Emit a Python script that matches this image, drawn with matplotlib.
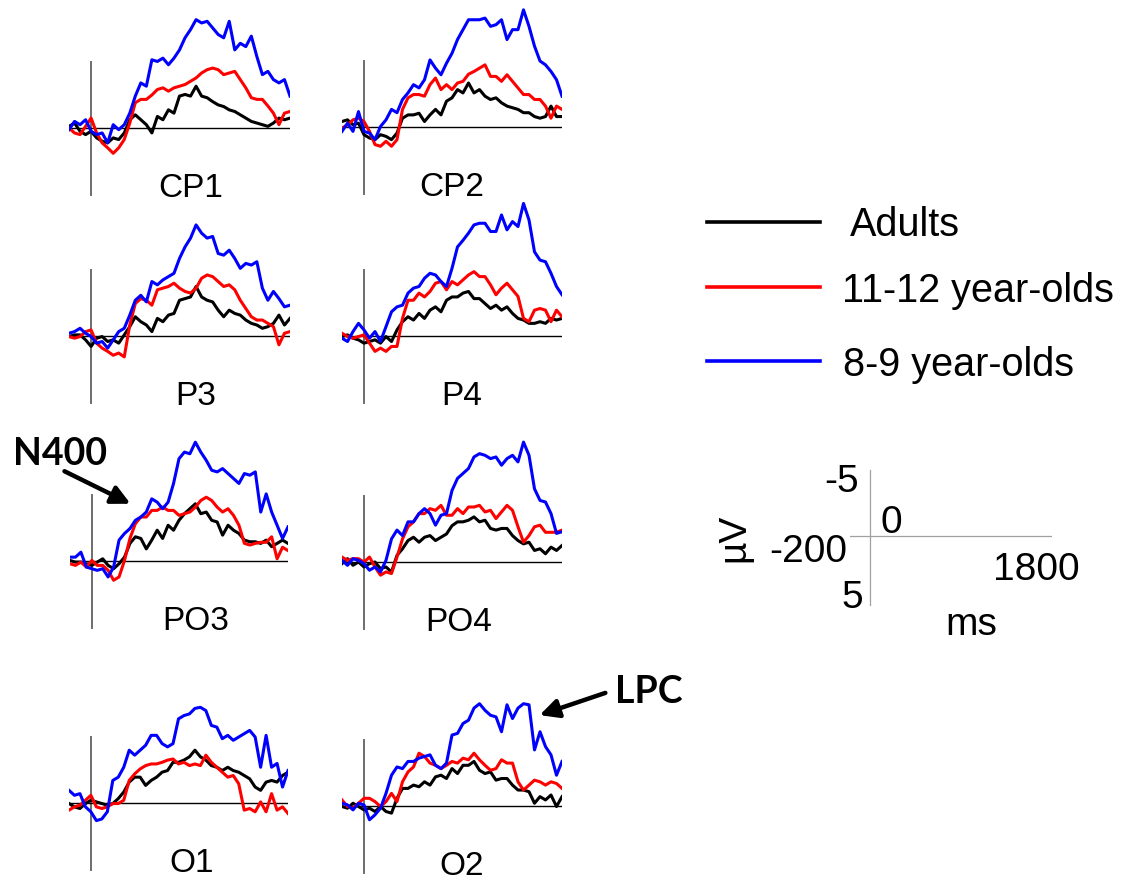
import matplotlib
matplotlib.use("Agg")
import matplotlib.pyplot as plt
import numpy as np

plt.rcParams['font.family'] = ['Liberation Sans', 'DejaVu Sans']

# time axis (ms), sampled every 50 ms
times = np.arange(-200, 1801, 50)

groups = ['Adults', '11-12 year-olds', '8-9 year-olds']
colors = ['#000000', '#ff0000', '#0000ff']

# amplitudes in microvolts (negative up)
cp1_adults = [-0.15, -0.45, 0.3, 0.6, 0.3, 0.9, 1.2, 1.35, 0.9, 1.05, 0.45, -0.75, -1.2, -0.75, -0.3, 0.45, -1.05, -0.75, -1.65, -1.35, -2.9,
              -3.05, -2.9, -3.8, -2.9, -2.75, -2.4, -2.1, -1.95, -1.65, -1.5, -1.2, -0.9, -0.6, -0.45, -0.3, -0.15, -0.45, -0.9, -0.75, -0.9]
cp1_older = [0, 0.45, 0.6, -0.15, -0.9, 0.45, 1.35, 1.8, 2.3, 1.8, 1.05, -0.45, -2.3, -2.6, -2.6, -3.0, -3.5, -3.65, -3.35, -3.65, -3.8,
             -3.95, -4.25, -4.55, -5.0, -5.3, -5.45, -5.3, -4.85, -5.0, -5.15, -4.4, -3.65, -2.75, -2.6, -2.6, -2.0, -1.35, -0.3, -1.35, -1.5]
cp1_younger = [0.15, -0.6, -0.3, -0.75, 0.3, 0.6, 0.45, 1.35, -0.3, 0.15, -0.3, -1.35, -2.9, -4.1, -3.8, -6.2, -6.05, -6.35, -5.75, -6.35, -7.1,
               -8.2, -8.95, -9.85, -9.55, -9.7, -9.1, -8.5, -8.2, -9.7, -7.1, -7.7, -7.4, -8.35, -6.5, -4.85, -5.15, -4.4, -4.1, -4.4, -2.9]

cp2_adults = [-0.5, -0.65, -0.2, -0.35, 0.7, 1.0, 1.15, 0.7, 0.85, 1.15, 0.55, -0.8, -1.1, -1.1, -1.25, -0.5, -1.1, -1.6, -1.1, -2.35, -2.65,
              -3.4, -3.1, -4.0, -3.1, -3.4, -2.8, -2.5, -2.65, -2.2, -1.9, -1.75, -1.6, -1.3, -1.3, -0.95, -0.8, -0.95, -1.9, -0.95, -0.95]
cp2_older = [0.1, -0.2, -0.65, -0.8, -0.5, 0.4, 1.6, 1.75, 1.3, 1.75, 1.15, -1.6, -2.65, -2.95, -2.95, -2.8, -3.85, -4.45, -3.4, -3.85, -3.4,
             -4.0, -4.15, -4.8, -5.05, -5.35, -5.65, -4.6, -4.6, -4.15, -4.75, -4.15, -3.55, -2.95, -2.95, -2.5, -2.5, -1.9, -0.8, -1.9, -1.6]
cp2_younger = [0.4, -0.35, 0.4, -1.4, 0.4, 0.55, 1.15, -0.05, -0.65, -1.6, -1.3, -2.5, -3.1, -3.85, -3.55, -4.3, -6.1, -5.35, -4.75, -5.8, -6.7,
               -7.95, -8.85, -9.75, -9.75, -9.75, -9.9, -9.15, -9.3, -9.75, -7.95, -8.85, -8.85, -10.65, -9.15, -7.35, -6.0, -5.65, -5.05, -4.3, -2.8]

p3_adults = [0.05, -0.1, -0.1, 0.35, 0.95, 0.2, 0.05, 0.5, 0.35, 0.65, -0.1, -0.85, -1.75, -1.3, -1.0, -0.4, -1.6, -1.3, -1.9, -2.05, -3.25,
             -3.4, -3.55, -4.5, -3.55, -3.25, -3.1, -2.35, -1.75, -2.35, -2.05, -1.9, -1.45, -1.15, -1.0, -0.7, -0.85, -1.15, -1.9, -1.0, -1.6]
p3_older = [0.05, 0.2, 0.05, -0.4, -0.55, 0.65, 1.1, 1.4, 1.75, 1.55, 1.9, -1.0, -2.95, -3.4, -3.25, -2.8, -4.2, -4.35, -4.5, -4.8, -4.35,
            -4.05, -3.9, -4.35, -5.25, -5.55, -5.4, -4.95, -4.5, -4.65, -4.2, -3.25, -2.5, -1.75, -1.45, -1.45, -1.15, -0.85, 0.8, -0.25, -0.4]
p3_younger = [-0.25, -0.4, -0.7, -0.25, 0.05, 0.65, 0.5, 1.1, 0.35, -0.4, -0.7, -1.9, -3.25, -3.7, -3.1, -4.95, -4.65, -5.1, -5.4, -5.7, -7.05,
              -8.1, -8.9, -10.1, -9.35, -8.9, -9.05, -7.5, -7.35, -7.8, -7.05, -6.15, -6.6, -6.45, -6.75, -4.35, -3.25, -4.05, -3.4, -2.65, -2.8]

p4_adults = [0.05, -0.1, 0.2, 0.35, 0.65, 0.5, 0.35, 0.65, 0.05, 0.5, -0.55, -1.3, -1.75, -1.45, -2.05, -1.6, -2.35, -2.65, -2.2, -3.25, -3.55,
             -3.55, -3.9, -4.05, -3.4, -3.4, -2.95, -2.5, -2.8, -2.35, -2.65, -2.05, -1.6, -1.45, -1.15, -1.15, -1.3, -1.15, -1.6, -1.45, -1.6]
p4_older = [-0.25, 0.05, 0.2, 0.05, -0.1, 0.65, 1.4, 1.1, 1.4, 0.95, 0.95, -1.6, -3.25, -3.25, -3.9, -3.55, -4.05, -4.8, -4.95, -4.2, -4.95,
            -4.65, -5.1, -5.55, -5.85, -5.4, -5.4, -4.65, -3.75, -4.35, -4.8, -4.2, -3.6, -1.6, -1.3, -2.35, -2.5, -2.35, -1.3, -2.35, -1.75]
p4_younger = [0.2, 0.5, -0.4, -1.15, -0.55, 0.2, -0.4, 0.5, -0.85, -2.2, -2.65, -2.8, -3.9, -4.35, -4.5, -5.25, -5.7, -5.55, -4.95, -4.5, -6.15,
              -8.1, -8.7, -9.35, -10.1, -10.25, -10.25, -9.5, -9.5, -11.0, -9.65, -10.4, -9.95, -12.05, -10.55, -7.65, -6.9, -6.75, -5.7, -4.5, -3.75]

po3_adults = [-0.05, 0.1, 0.1, 0.25, 0.4, 0.1, -0.2, 0.4, 0.7, 0.25, -0.35, -1.6, -2.2, -2.05, -1.1, -1.9, -2.8, -2.05, -3.25, -2.8, -3.7,
              -4.3, -4.75, -5.2, -4.3, -4.45, -3.7, -3.55, -2.35, -3.25, -2.8, -2.5, -1.9, -1.75, -1.75, -1.6, -1.9, -1.3, -1.6, -1.9, -1.6]
po3_older = [0.25, 0.4, 0.1, 0.55, -0.05, 0.4, 0.4, 0.85, 1.75, 1.45, -0.05, -2.05, -3.4, -4.0, -4.0, -4.6, -4.6, -4.9, -4.6, -4.6, -4.15,
             -4.3, -4.45, -4.9, -5.5, -5.8, -5.5, -4.9, -4.45, -4.75, -4.15, -3.25, -1.6, -1.45, -1.6, -1.7, -1.7, -2.2, -0.2, -1.25, -0.95]
po3_younger = [-0.35, -0.35, -0.8, 0.55, 0.7, 0.85, 0.7, 1.45, 0.55, -1.9, -2.5, -2.95, -3.7, -4.0, -4.45, -5.65, -5.35, -4.75, -5.35, -7.05, -9.3,
               -9.9, -9.75, -10.8, -9.9, -9.15, -8.25, -8.1, -8.4, -7.95, -7.5, -7.05, -7.95, -7.8, -8.1, -4.45, -6.1, -4.45, -3.25, -2.05, -3.1]

po4_adults = [0.15, -0.3, 0.3, 0, 0.45, 0.15, 0, 0.6, 0.45, 0.9, -0.6, -1.2, -1.95, -2.25, -1.8, -2.25, -2.4, -1.95, -2.25, -2.55, -3.3,
              -3.65, -3.65, -3.8, -4.1, -3.65, -3.8, -3.05, -2.9, -3.05, -3.05, -2.4, -1.95, -1.65, -1.8, -1.05, -1.2, -0.75, -1.35, -1.05, -1.5]
po4_older = [-0.45, -0.15, -0.3, -0.3, 0, -0.45, 0.45, 1.2, 0.9, 1.05, -0.45, -2.1, -3.2, -3.65, -4.4, -4.4, -4.85, -4.7, -5.15, -4.25, -4.25,
             -4.85, -4.4, -5.0, -5.0, -5.15, -4.55, -4.7, -3.95, -4.55, -5.15, -4.7, -3.2, -1.8, -2.4, -3.2, -3.35, -2.7, -2.7, -2.7, -2.9]
po4_younger = [-0.15, 0.3, -0.3, -0.15, 0.15, 0.75, 0.45, 0.9, -0.15, -2.1, -2.9, -2.4, -3.65, -3.65, -4.4, -4.85, -4.4, -3.35, -4.25, -4.4, -6.5,
               -7.6, -8.05, -8.5, -9.55, -9.85, -9.7, -9.4, -9.55, -8.8, -9.4, -9.7, -9.1, -10.9, -9.7, -6.65, -5.6, -5.45, -4.4, -2.6, -2.75]

o1_adults = [0.05, 0.35, 0.5, 0.05, -0.25, -0.1, 0.05, 0.2, 0.05, -0.4, -1.0, -1.9, -2.35, -2.35, -1.6, -2.05, -2.35, -2.8, -2.95, -3.7, -3.7,
             -3.9, -4.2, -4.8, -4.2, -3.9, -3.4, -3.25, -2.95, -3.25, -2.95, -2.8, -2.5, -2.2, -1.45, -1.15, -1.9, -2.05, -1.9, -2.5, -2.8]
o1_older = [0.65, 0.35, 0.2, -0.25, -0.7, 0.35, 0.5, 0.35, 0.05, 0.05, -0.25, -2.05, -2.65, -3.1, -3.4, -3.55, -3.55, -3.7, -3.9, -4.0, -3.55,
            -3.7, -3.4, -3.55, -3.4, -4.35, -3.7, -3.25, -2.8, -2.35, -2.5, -1.75, 0.65, 0.5, 0.8, -0.1, 0.8, -0.85, 0.65, 0.35, 0.95]
o1_younger = [-1.15, -0.7, -0.85, 0.35, 0.8, 1.6, 1.45, 0.8, -2.05, -2.35, -3.25, -4.8, -4.35, -4.8, -5.25, -6.15, -6.15, -5.4, -5.1, -5.4, -7.65,
              -7.95, -8.1, -8.6, -8.7, -8.4, -7.05, -6.9, -5.85, -6.15, -5.7, -6.0, -6.3, -6.6, -6.0, -3.25, -6.15, -3.25, -3.6, -1.45, -2.95]

o2_adults = [0.05, 0.2, -0.25, 0.05, 0.35, 0.2, 0.5, 0.05, 0.5, 0.65, -0.7, -1.6, -1.6, -1.9, -1.75, -2.2, -1.9, -2.65, -2.8, -2.5, -3.4,
             -2.95, -3.7, -3.7, -4.05, -3.25, -2.95, -3.1, -2.35, -2.5, -2.5, -1.9, -1.45, -1.45, -1.3, -0.25, -0.85, -0.55, -1.0, 0.05, -0.85]
o2_older = [-0.55, 0.05, 0.2, -0.25, -0.7, -0.7, -0.4, 0.05, -0.4, -1.15, -0.4, -2.2, -3.1, -3.55, -4.8, -4.5, -3.9, -3.7, -3.4, -3.7, -4.05,
            -3.9, -4.35, -4.2, -4.8, -4.2, -3.7, -3.25, -3.4, -4.2, -3.9, -3.9, -2.2, -1.45, -1.9, -2.35, -2.2, -1.9, -2.2, -2.05, -1.6]
o2_younger = [-0.25, -0.1, 0.35, -0.25, -0.1, 1.25, 0.8, 0.2, -1.15, -2.8, -3.55, -3.4, -4.05, -4.05, -4.35, -4.5, -4.65, -3.7, -3.4, -3.9, -6.45,
              -6.6, -7.5, -7.8, -8.9, -9.3, -8.7, -8.25, -8.1, -6.75, -9.2, -7.95, -8.9, -9.3, -9.2, -5.1, -6.75, -5.4, -4.65, -2.8, -4.05]

channels = ['CP1', 'CP2', 'P3', 'P4', 'PO3', 'PO4', 'O1', 'O2']
waves = {
    'CP1': [cp1_adults, cp1_older, cp1_younger],
    'CP2': [cp2_adults, cp2_older, cp2_younger],
    'P3': [p3_adults, p3_older, p3_younger],
    'P4': [p4_adults, p4_older, p4_younger],
    'PO3': [po3_adults, po3_older, po3_younger],
    'PO4': [po4_adults, po4_older, po4_younger],
    'O1': [o1_adults, o1_older, o1_younger],
    'O2': [o2_adults, o2_older, o2_younger],
}

# panel placement in pixels: x of -200 ms, x of 1800 ms, y of 0 uV, label time (ms)
layout = {
    'CP1': (69, 290, 128, 900),
    'CP2': (342, 562, 127, 800),
    'P3': (69, 290, 336, 950),
    'P4': (342, 562, 336, 890),
    'PO3': (70, 288, 561, 950),
    'PO4': (342, 562, 562, 860),
    'O1': (69, 288, 803, 920),
    'O2': (342, 562, 806, 890),
}

W, H = 1127, 882
PX = 11.0  # pixels per microvolt
fig = plt.figure(figsize=(W / 100, H / 100), dpi=100)

for ch in channels:
    x0, x1, zy, lab_t = layout[ch]
    top, bot = zy - 13 * PX, zy + 6.5 * PX
    ax = fig.add_axes([x0 / W, 1 - bot / H, (x1 - x0) / W, (bot - top) / H])
    ax.set_xlim(-200, 1800)
    ax.set_ylim(6.5, -13)
    ax.axis('off')
    ax.plot([0, 0], [-6, 6.1], color='#6e6e6e', lw=1.4, zorder=1)
    ax.plot([-200, 1800], [0, 0], color='black', lw=1.0, zorder=1)
    for vals, c in zip(waves[ch], colors):
        ax.plot(times, vals, color=c, lw=2.2, zorder=2)
    ax.text(lab_t, 6.27, ch, ha='center', va='baseline', fontsize=24)

# scale bar
sb = fig.add_axes([850 / W, 1 - (536 + 6.5 * PX) / H, 202 / W, 13 * PX / H])
sb.set_xlim(-200, 1800)
sb.set_ylim(6.5, -6.5)
sb.axis('off')
sb.plot([0, 0], [-6, 6.3], color='#a0a0a0', lw=0.9)
sb.plot([-200, 1800], [0, 0], color='#a0a0a0', lw=0.9)

# overlay in pixel coordinates for legend and annotations
ov = fig.add_axes([0, 0, 1, 1])
ov.set_xlim(0, W)
ov.set_ylim(H, 0)
ov.axis('off')
ov.patch.set_alpha(0)

leg_y = [222, 287, 361]
leg_tx = [850, 842, 843]
for g, c, y, tx in zip(groups, colors, leg_y, leg_tx):
    ov.plot([707, 820], [y, y], color=c, lw=2.6)
    ov.text(tx, y + 14.5, g, ha='left', va='baseline', fontsize=28.5)

fs = 28
ov.text(859, 492, '-5', ha='right', va='baseline', fontsize=fs)
ov.text(880, 533, '0', ha='left', va='baseline', fontsize=fs)
ov.text(847, 562, '-200', ha='right', va='baseline', fontsize=fs)
ov.text(1080, 580, '1800', ha='right', va='baseline', fontsize=fs)
ov.text(863, 608, '5', ha='right', va='baseline', fontsize=fs)
ov.text(945, 635, 'ms', ha='left', va='baseline', fontsize=fs)
ov.text(734, 538, 'µV', ha='center', va='center', rotation=90, fontsize=fs)

ov.text(13, 465, 'N400', family='Lato', fontweight='bold', fontsize=27, ha='left', va='baseline')
ov.annotate('', xy=(133, 505), xytext=(62, 470),
            arrowprops=dict(arrowstyle='-|>', lw=3.2, color='black', mutation_scale=28))
ov.text(615, 703, 'LPC', family='Lato', fontweight='bold', fontsize=27, ha='left', va='baseline')
ov.annotate('', xy=(537, 716), xytext=(608, 692),
            arrowprops=dict(arrowstyle='-|>', lw=3.2, color='black', mutation_scale=28))

fig.savefig('out.png', dpi=100)
